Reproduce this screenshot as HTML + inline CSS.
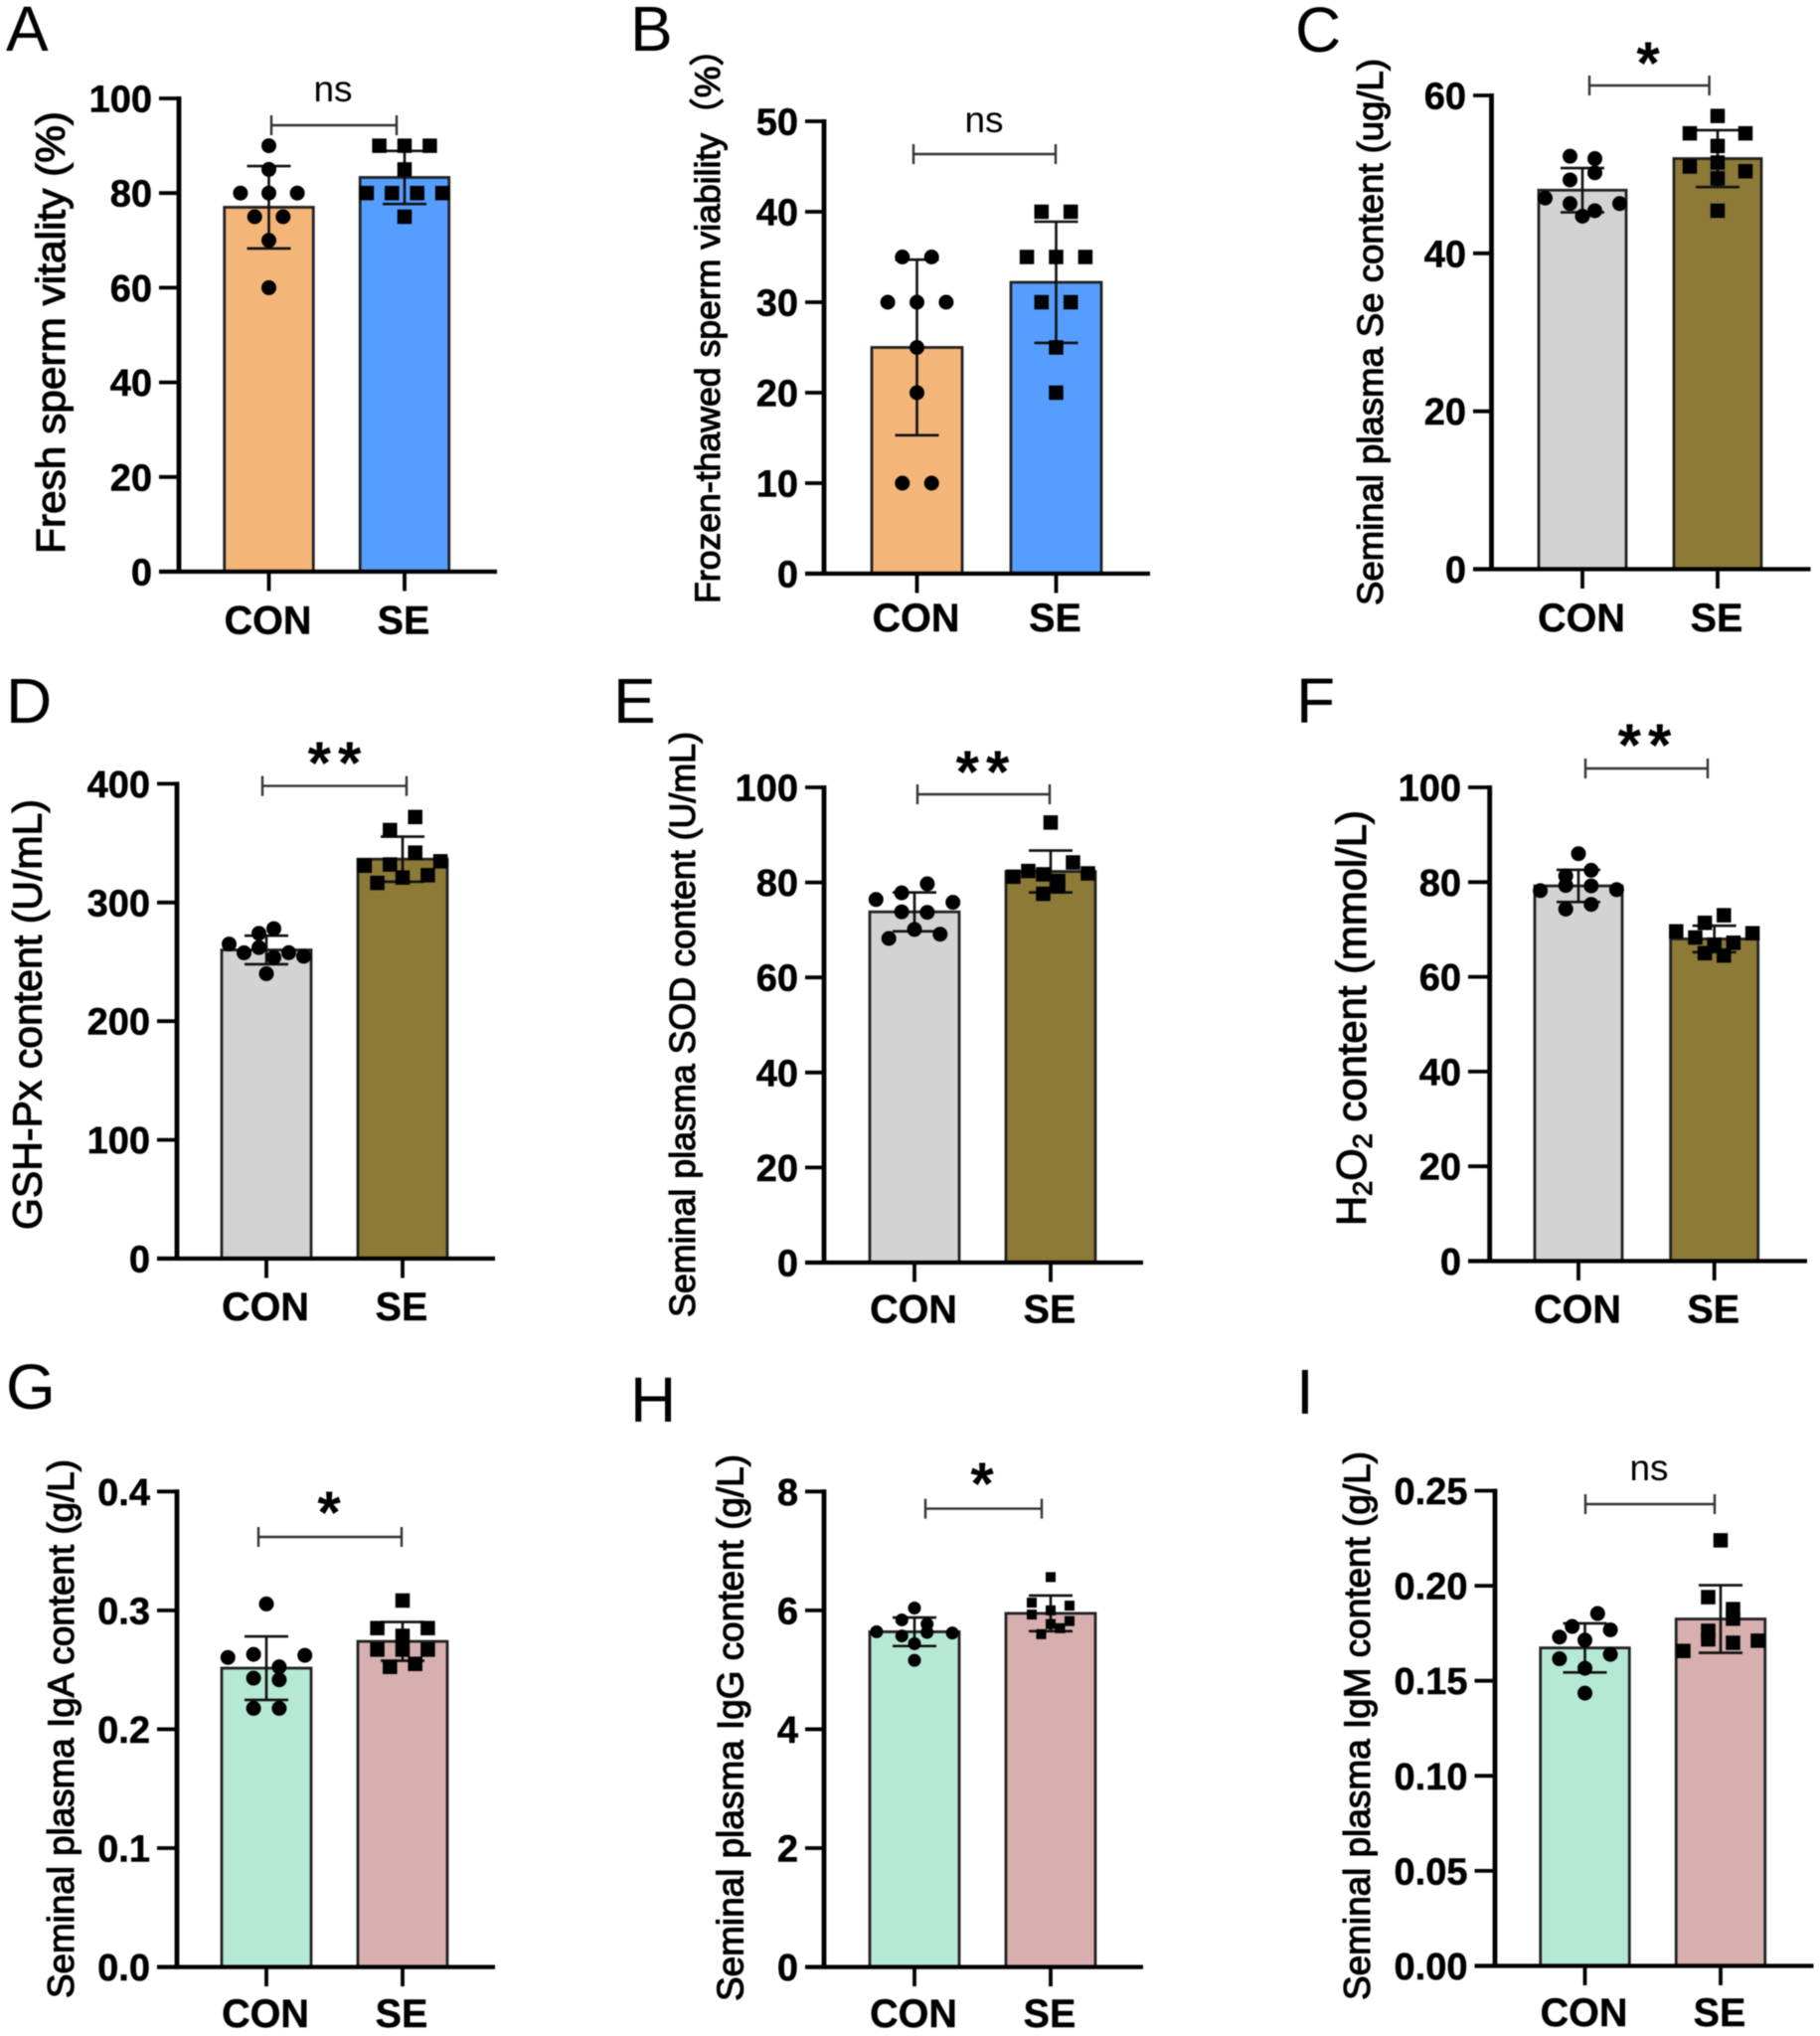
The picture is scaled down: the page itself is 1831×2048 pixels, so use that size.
<!DOCTYPE html>
<html lang="en">
<head>
<meta charset="utf-8">
<title>Semen quality bar charts</title>
<style>
html,body{margin:0;padding:0;background:#fff;}
#figure{display:block;width:1831px;height:2048px;filter:blur(0.6px);}
text{font-family:"Liberation Sans","Noto Sans CJK SC",sans-serif;fill:#000;}
.letter{font-size:64px;}
.ytitle{stroke:#000;stroke-width:1.1px;}
.sig{font-size:37px;}
.star{font-size:60px;font-weight:bold;}
.dbl{letter-spacing:7px;}
.ticklabel{font-size:38px;font-weight:bold;text-anchor:end;stroke:#000;stroke-width:0.5px;}
.catlabel{font-size:39.5px;font-weight:bold;text-anchor:middle;stroke:#000;stroke-width:0.4px;}
</style>
</head>
<body>
<svg id="figure" xmlns="http://www.w3.org/2000/svg" width="1831" height="2048" viewBox="0 0 1831 2048">
  <rect width="1831" height="2048" fill="#fff"/>

  <text class="letter" x="6" y="51">A</text>
  <text class="letter" x="634" y="51">B</text>
  <text class="letter" x="1303" y="52">C</text>
  <text class="letter" x="6" y="727">D</text>
  <text class="letter" x="617" y="727">E</text>
  <text class="letter" x="1304" y="727">F</text>
  <text class="letter" x="6" y="1417">G</text>
  <text class="letter" x="634" y="1430">H</text>
  <text class="letter" x="1304" y="1422">I</text>

  <text class="ytitle" transform="translate(65,557) rotate(-90)" font-size="41" textLength="445" lengthAdjust="spacingAndGlyphs">Fresh sperm vitality (%)</text>
  <text class="ytitle" transform="translate(724,607) rotate(-90)" font-size="35.5" textLength="576" lengthAdjust="spacingAndGlyphs">Frozen-thawed sperm viability（%）</text>
  <text class="ytitle" transform="translate(1391,609) rotate(-90)" font-size="36" textLength="550" lengthAdjust="spacingAndGlyphs">Seminal plasma Se content (ug/L)</text>
  <text class="ytitle" transform="translate(41.6,1237) rotate(-90)" font-size="41" textLength="433" lengthAdjust="spacingAndGlyphs">GSH-Px content (U/mL)</text>
  <text class="ytitle" transform="translate(699,1325) rotate(-90)" font-size="35.8" textLength="589" lengthAdjust="spacingAndGlyphs">Seminal plasma SOD content (U/mL)</text>
  <text class="ytitle" transform="translate(1374,1233) rotate(-90)" font-size="41.8">H<tspan font-size="27" dy="6">2</tspan><tspan dy="-6">O</tspan><tspan font-size="27" dy="6">2</tspan><tspan dy="-6"> content (mmol/L)</tspan></text>
  <text class="ytitle" transform="translate(74,2010) rotate(-90)" font-size="36.7" textLength="542" lengthAdjust="spacingAndGlyphs">Seminal plasma IgA content (g/L)</text>
  <text class="ytitle" transform="translate(747.5,2013) rotate(-90)" font-size="36.9" textLength="550" lengthAdjust="spacingAndGlyphs">Seminal plasma IgG content (g/L)</text>
  <text class="ytitle" transform="translate(1378,2012) rotate(-90)" font-size="36.9" textLength="552" lengthAdjust="spacingAndGlyphs">Seminal plasma IgM content (g/L)</text>

  <text class="sig" x="335" y="102" text-anchor="middle">ns</text>
  <text class="sig" x="990" y="133" text-anchor="middle">ns</text>
  <text class="star" x="1658" y="84" text-anchor="middle">*</text>
  <text class="star dbl" x="340" y="788" text-anchor="middle">**</text>
  <text class="star dbl" x="992" y="797" text-anchor="middle">**</text>
  <text class="star dbl" x="1658" y="770" text-anchor="middle">**</text>
  <text class="star" x="331" y="1542" text-anchor="middle">*</text>
  <text class="star" x="988" y="1513" text-anchor="middle">*</text>
  <text class="sig" x="1659" y="1489" text-anchor="middle">ns</text>
</svg>

<script>
// ---- chart data ----
const categories = ['CON', 'SE'];

const aTickLabels = ['0', '20', '40', '60', '80', '100'];
const aMeans = [77, 83.3];
const aSds = [8.7, 5.6];
const aConValues = [90, 85, 80, 80, 80, 75, 75, 70, 60];
const aSeValues = [90, 90, 90, 85, 80, 80, 80, 80, 75];

const bTickLabels = ['0', '10', '20', '30', '40', '50'];
const bMeans = [25, 32.2];
const bSds = [9.7, 6.7];
const bConValues = [35, 35, 30, 30, 30, 25, 20, 10, 10];
const bSeValues = [40, 40, 35, 35, 35, 30, 30, 25, 20];

const cTickLabels = ['0', '20', '40', '60'];
const cMeans = [48, 52];
const cSds = [2.8, 3.6];
const cConValues = [52.3, 52, 49.3, 50.2, 47, 46.3, 45.4, 46.3, 44.7];
const cSeValues = [57.4, 55.2, 53.6, 55.2, 51, 51.5, 50.4, 49.5, 45.4];

const dTickLabels = ['0', '100', '200', '300', '400'];
const dMeans = [260, 336.5];
const dSds = [12, 19];
const dConValues = [274, 278, 265, 257.6, 262, 253.7, 257.7, 254.7, 240];
const dSeValues = [361, 372, 331, 332, 342, 334.7, 316.5, 321, 323];

const eTickLabels = ['0', '20', '40', '60', '80', '100'];
const eMeans = [73.8, 82.3];
const eSds = [4.1, 4.4];
const eConValues = [77.8, 79.7, 76.4, 73.8, 73.7, 75.8, 68.2, 70.1, 69.1];
const eSeValues = [92.6, 81.2, 82.4, 81.7, 80.3, 84.2, 81.9, 77.6, 79.2];

const fTickLabels = ['0', '20', '40', '60', '80', '100'];
const fMeans = [79.2, 68];
const fSds = [3.4, 2.8];
const fConValues = [86, 81.3, 82.5, 78.2, 79.3, 79.2, 78.4, 74.3, 75.3];
const fSeValues = [71.4, 73, 69.6, 68.3, 66.8, 67.2, 69.2, 65, 64.5];

const gTickLabels = ['0.0', '0.1', '0.2', '0.3', '0.4'];
const gMeans = [0.2514, 0.2739];
const gSds = [0.0267, 0.0163];
const gConValues = [0.3054, 0.2604, 0.263, 0.2525, 0.2622, 0.243, 0.2416, 0.2176, 0.2176];
const gSeValues = [0.3083, 0.2851, 0.2786, 0.2851, 0.267, 0.267, 0.267, 0.2525, 0.255];

const hTickLabels = ['0', '2', '4', '6', '8'];
const hMeans = [5.64, 5.95];
const hSds = [0.24, 0.3];
const hConValues = [6.04, 5.84, 5.77, 5.64, 5.57, 5.63, 5.62, 5.44, 5.16];
const hSeValues = [6.56, 6.13, 6.0, 6.08, 5.93, 5.77, 5.82, 5.6, 5.7];

const iTickLabels = ['0.00', '0.05', '0.10', '0.15', '0.20', '0.25'];
const iMeans = [0.1673, 0.1825];
const iSds = [0.0129, 0.0178];
const iConValues = [0.1786, 0.1854, 0.173, 0.1714, 0.1768, 0.1616, 0.1566, 0.1639, 0.1435];
const iSeValues = [0.2239, 0.194, 0.1877, 0.1763, 0.1827, 0.1657, 0.1718, 0.17, 0.1711];

// ---- drawing ----
const SVG_NS = 'http://www.w3.org/2000/svg';
const figure = document.getElementById('figure');
const ORANGE = '#F4B678', BLUE = '#559EFF', GREY = '#D3D3D3', OLIVE = '#8C7A36', MINT = '#B6E9D5', PINK = '#D7AFAF';

function make(tag, attrs, parent) {
  const node = document.createElementNS(SVG_NS, tag);
  for (const key in attrs) node.setAttribute(key, attrs[key]);
  parent.appendChild(node);
  return node;
}

// Prism-style swarm: values within a bin share a row, centred on the bar.
function swarmOffsets(values, binWidth, slot) {
  const order = values.map(function (v, i) { return i; }).sort(function (p, q) {
    return values[q] - values[p] || p - q;
  });
  const offsets = new Array(values.length).fill(0);
  let start = 0;
  while (start < order.length) {
    let end = start + 1;
    while (end < order.length && values[order[start]] - values[order[end]] <= binWidth) end++;
    const members = order.slice(start, end).sort(function (p, q) { return p - q; });
    members.forEach(function (index, position) {
      offsets[index] = (2 * position - (members.length - 1)) * slot;
    });
    start = end;
  }
  return offsets;
}

function drawPanel(id, cfg, tickLabels, means, sds, seriesValues) {
  const yMax = parseFloat(tickLabels[tickLabels.length - 1]);
  const yScale = function (v) { return cfg.y0 - (v / yMax) * (cfg.y0 - cfg.yTop); };

  const group = make('g', {}, figure);
  
  

  // bars
  categories.forEach(function (category, i) {
    const top = yScale(means[i]);
    const bar = make('rect', {
      x: cfg.xs[i] - cfg.barW / 2, y: top, width: cfg.barW, height: cfg.y0 - top,
      fill: cfg.fills[i], stroke: '#222', 'stroke-width': 2.8
    }, group);
    
    
  });

  // error bars
  categories.forEach(function (category, i) {
    const hi = yScale(means[i] + sds[i]);
    const lo = yScale(means[i] - sds[i]);
    const cx = cfg.xs[i];
    const err = make('path', {
      d: 'M' + cx + ' ' + hi + 'V' + lo + 'M' + (cx - 22) + ' ' + hi + 'H' + (cx + 22) + 'M' + (cx - 22) + ' ' + lo + 'H' + (cx + 22),
      fill: 'none', stroke: '#111', 'stroke-width': 2.6
    }, group);
    
    
  });

  // data points
  seriesValues.forEach(function (values, i) {
    const layout = cfg.swarm[i];
    const offsets = swarmOffsets(values, layout.bin, layout.slot);
    values.forEach(function (value, n) {
      const px = cfg.xs[i] + offsets[n];
      const py = yScale(value);
      let mark;
      if (i === 0) {
        mark = make('circle', { cx: px, cy: py, r: (layout.size || 15) / 2, fill: '#000' }, group);
      } else {
        const s = layout.size || 14.5;
        mark = make('rect', { x: px - s / 2, y: py - s / 2, width: s, height: s, fill: '#000' }, group);
      }
      
      
    });
  });

  // axes
  const yAxis = make('line', { x1: cfg.x0, x2: cfg.x0, y1: cfg.yTop - 2, y2: cfg.y0 + 2, stroke: '#000', 'stroke-width': 4.8 }, group);
  
  
  const xAxis = make('line', { x1: cfg.tickLeft, x2: cfg.xRight, y1: cfg.y0, y2: cfg.y0, stroke: '#000', 'stroke-width': 4.2 }, group);
  
  

  tickLabels.forEach(function (label) {
    const y = yScale(parseFloat(label));
    const tick = make('line', { x1: cfg.tickLeft, x2: cfg.x0, y1: y, y2: y, stroke: '#000', 'stroke-width': 3.8 }, group);
    
    
    const text = make('text', { class: 'ticklabel', x: cfg.tickLeft - 7, y: y + 13.5 }, group);
    text.textContent = label;
    
    
  });

  categories.forEach(function (category, i) {
    const tick = make('line', { x1: cfg.xs[i], x2: cfg.xs[i], y1: cfg.y0, y2: cfg.y0 + 19.5, stroke: '#000', 'stroke-width': 3.8 }, group);
    
    
    const text = make('text', { class: 'catlabel', x: cfg.xs[i] - 1, y: cfg.labelY }, group);
    text.textContent = category;
    
    
  });

  // significance bracket
  const b = cfg.bracket;
  const bracket = make('path', {
    d: 'M' + b[0] + ' ' + b[2] + 'H' + b[1] + 'M' + b[0] + ' ' + (b[2] - 10) + 'V' + (b[2] + 10) + 'M' + b[1] + ' ' + (b[2] - 10) + 'V' + (b[2] + 10),
    fill: 'none', stroke: '#333', 'stroke-width': 2.4
  }, group);
  
  
}

drawPanel('a', {
  x0: 180, y0: 575, yTop: 99, tickLeft: 160, xRight: 500, xs: [270.5, 407], barW: 89.5, labelY: 637.5,
  fills: [ORANGE, BLUE], bracket: [273, 399, 126],
  swarm: [{ bin: 2, slot: 14.3 }, { bin: 2, slot: 12.7 }]
}, aTickLabels, aMeans, aSds, [aConValues, aSeValues]);

drawPanel('b', {
  x0: 829, y0: 577, yTop: 122, tickLeft: 810, xRight: 1157, xs: [922.5, 1062.5], barW: 91, labelY: 635,
  fills: [ORANGE, BLUE], bracket: [919, 1062, 155],
  swarm: [{ bin: 2, slot: 14.7 }, { bin: 2, slot: 14.7 }]
}, bTickLabels, bMeans, bSds, [bConValues, bSeValues]);

drawPanel('c', {
  x0: 1500.5, y0: 572.5, yTop: 96, tickLeft: 1482, xRight: 1821.5, xs: [1592, 1728], barW: 88, labelY: 635,
  fills: [GREY, OLIVE], bracket: [1599, 1719.6, 86],
  swarm: [{ bin: 1.9, slot: 12.5 }, { bin: 1.9, slot: 14 }]
}, cTickLabels, cMeans, cSds, [cConValues, cSeValues]);

drawPanel('d', {
  x0: 178, y0: 1266, yTop: 788.4, tickLeft: 158, xRight: 498, xs: [268, 405], barW: 90, labelY: 1328,
  fills: [GREY, OLIVE], bracket: [264, 409, 790.6],
  swarm: [{ bin: 12, slot: 7.5 }, { bin: 12, slot: 12.7 }]
}, dTickLabels, dMeans, dSds, [dConValues, dSeValues]);

drawPanel('e', {
  x0: 829, y0: 1270, yTop: 792, tickLeft: 810, xRight: 1150, xs: [920, 1057], barW: 90, labelY: 1330.6,
  fills: [GREY, OLIVE], bracket: [923, 1056, 799],
  swarm: [{ bin: 3, slot: 12.9 }, { bin: 4.5, slot: 7.5 }]
}, eTickLabels, eMeans, eSds, [eConValues, eSeValues]);

drawPanel('f', {
  x0: 1498.7, y0: 1268.5, yTop: 792, tickLeft: 1477, xRight: 1818, xs: [1588, 1724.7], barW: 88, labelY: 1330.6,
  fills: [GREY, OLIVE], bracket: [1595, 1718, 773],
  swarm: [{ bin: 1.5, slot: 12.8 }, { bin: 2.9, slot: 9.6 }]
}, fTickLabels, fMeans, fSds, [fConValues, fSeValues]);

drawPanel('g', {
  x0: 178, y0: 1978.6, yTop: 1500.3, tickLeft: 158, xRight: 498, xs: [268, 405], barW: 90, labelY: 2039,
  fills: [MINT, PINK], bracket: [260, 404, 1546],
  swarm: [{ bin: 0.011, slot: 12.9 }, { bin: 0.008, slot: 12.7 }]
}, gTickLabels, gMeans, gSds, [gConValues, gSeValues]);

drawPanel('h', {
  x0: 829, y0: 1978.6, yTop: 1500.3, tickLeft: 810, xRight: 1150, xs: [920, 1057], barW: 90, labelY: 2039,
  fills: [MINT, PINK], bracket: [931, 1048, 1517.6],
  swarm: [{ bin: 0.15, slot: 12.7, size: 13 }, { bin: 0.165, slot: 9.5, size: 10 }]
}, hTickLabels, hMeans, hSds, [hConValues, hSeValues]);

drawPanel('i', {
  x0: 1504, y0: 1977.5, yTop: 1499.5, tickLeft: 1483.5, xRight: 1824.5, xs: [1594.5, 1731], barW: 89.5, labelY: 2038,
  fills: [MINT, PINK], bracket: [1595, 1725, 1513],
  swarm: [{ bin: 0.0085, slot: 12.8 }, { bin: 0.0065, slot: 12.5 }]
}, iTickLabels, iMeans, iSds, [iConValues, iSeValues]);
</script>
</body>
</html>
